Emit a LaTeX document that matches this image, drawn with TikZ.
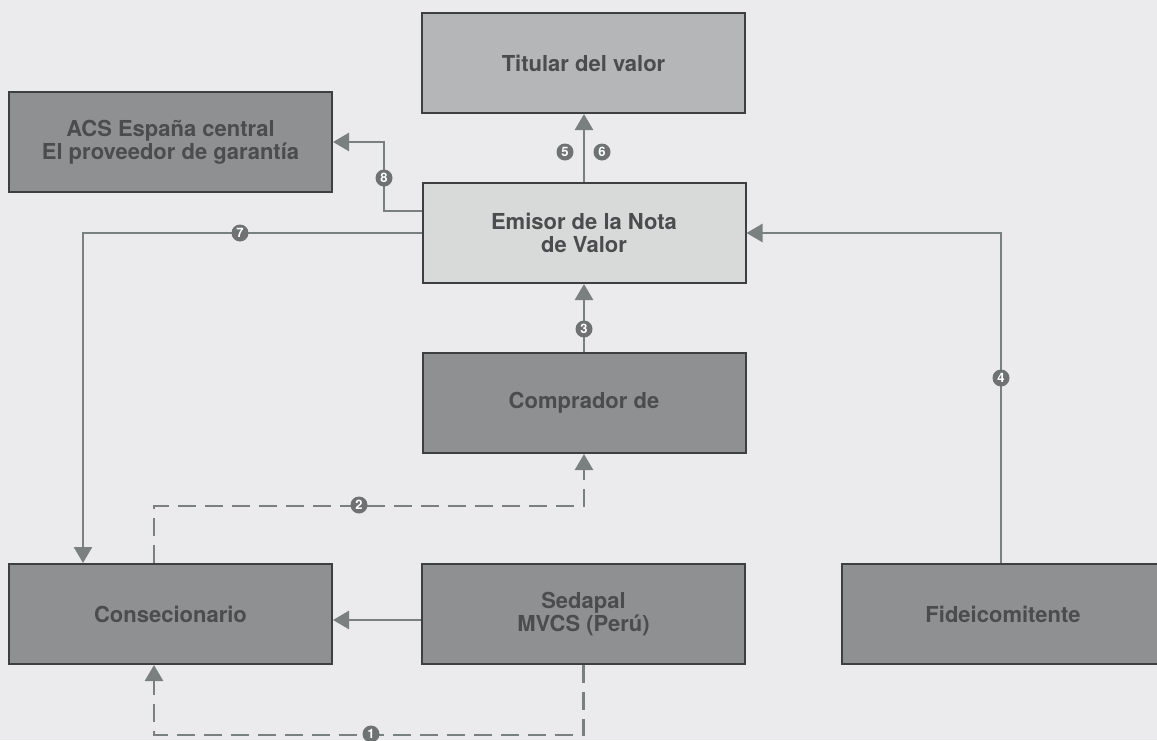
\documentclass[tikz,border=0pt]{standalone}
\usepackage{fontspec}
\setmainfont{TeX Gyre Heros}
\usetikzlibrary{arrows.meta,calc}
\definecolor{bgc}{HTML}{EBEBED}
\definecolor{darkfill}{HTML}{8F9091}
\definecolor{titfill}{HTML}{B4B6B7}
\definecolor{emfill}{HTML}{D8D9D9}
\definecolor{bordc}{HTML}{3E3F40}
\definecolor{txtc}{HTML}{4B4C4D}
\definecolor{linec}{HTML}{7A7F7F}
\definecolor{numc}{HTML}{6E7272}
\tikzset{
  box/.style={draw=bordc, line width=2pt, minimum width=323pt, minimum height=100pt,
    inner sep=0pt, align=center, text=txtc, font=\fontsize{22}{23}\selectfont\bfseries},
  darkbox/.style={box, fill=darkfill},
  arr/.style={draw=linec, line width=2.6pt, -{Triangle[width=18pt,length=16pt]}},
  conn/.style={draw=linec, line width=2.6pt},
  dashline/.style={dash pattern=on 18pt off 9pt},
  num/.style={circle, fill=numc, text=white, inner sep=0pt, minimum size=17pt,
    font=\fontsize{13}{13}\selectfont\bfseries}
}
\begin{document}
\begin{tikzpicture}[x=1pt,y=-1pt]
\useasboundingbox (0,0) rectangle (1157,740);
\clip (0,0) rectangle (1157,740);
\fill[bgc] (0,0) rectangle (1157,740);

\node[box, fill=titfill] (titular) at (583.5,63) {Titular del valor};
\node[darkbox] (acs) at (170.5,142) {ACS España central\\El proveedor de garantía};
\node[box, fill=emfill] (emisor) at (584,233) {Emisor de la Nota\\de Valor};
\node[darkbox] (comprador) at (584,403) {Comprador de};
\node[darkbox] (consec) at (170.5,614) {Consecionario};
\node[darkbox] (sedapal) at (583.5,614) {Sedapal\\MVCS (Perú)};
\node[darkbox] (fide) at (1003,614) {Fideicomitente};

% 5 6
\draw[arr] (emisor.north) -- (emisor.north |- titular.south);
\node[num] (n5) at (565,152) {5};
\node[num] (n6) at (602,152) {6};
% 8
\draw[arr] ([yshift=22pt]emisor.west) -- (384,211) -- (384,142) -- (acs.east);
\node[num] (n8) at (384,178) {8};
% 7
\draw[arr] (emisor.west) -| ([xshift=-87.5pt]consec.north);
\node[num] (n7) at (240,233) {7};
% 3
\draw[arr] (comprador.north) -- (emisor.south);
\node[num] (n3) at (584,329) {3};
% 4
\draw[arr] ([xshift=-2pt]fide.north) -- (1001,233) -- (emisor.east);
\node[num] (n4) at (1001,378) {4};
% 2
\draw[arr, dashline] ([xshift=-16.5pt]consec.north) |- ($(comprador.south)+(0,52)$) -- (comprador.south);
\node[num] (n2) at (359,505) {2};
% Sedapal -> Consecionario
\draw[arr] ([yshift=-6pt]sedapal.west) -- ([yshift=-6pt]consec.east);
% 1
\draw[arr, dashline] (sedapal.south) -- ($(sedapal.south)+(0,70)$) -| ([xshift=-16.5pt]consec.south);
\node[num] (n1) at (371,734) {1};
\end{tikzpicture}
\end{document}
